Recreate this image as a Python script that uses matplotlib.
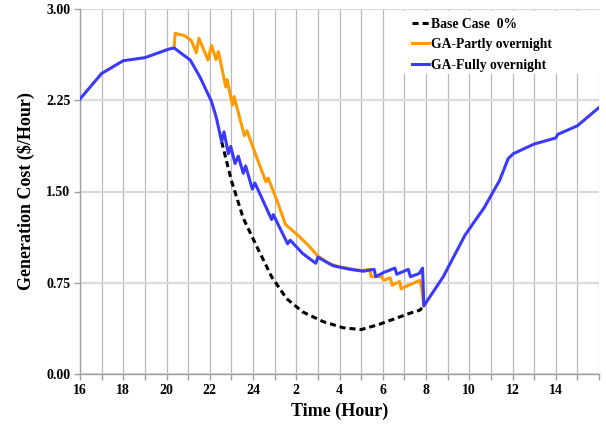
import matplotlib
matplotlib.use("Agg")
import matplotlib.pyplot as plt
from matplotlib.patches import Rectangle
import numpy as np

# ---- data (hours counted from 16:00; 24+ means next day) ----
fully_hours = [16, 17, 18, 19, 20.1, 20.35, 21.1, 21.55, 22.08, 22.3, 22.55, 22.66, 22.86, 22.97,
               23.17, 23.32, 23.55, 23.66, 23.97, 24.09, 24.86, 24.94, 25.6, 25.72, 26.3, 26.9,
               27.0, 27.7, 28.5, 29.1, 29.6, 29.68, 30.05, 30.56, 30.65, 31.18, 31.28, 31.68,
               31.84, 31.9, 32.8, 33.8, 34.7, 35.4, 35.8, 36.03, 37.0, 38.0, 38.1, 39.0, 40.0]
fully_cost = [2.26, 2.47, 2.575, 2.60, 2.67, 2.68, 2.58, 2.44, 2.24, 2.11, 1.91, 1.99, 1.81, 1.87,
              1.73, 1.79, 1.65, 1.71, 1.52, 1.57, 1.27, 1.31, 1.07, 1.10, 0.99, 0.91,
              0.96, 0.89, 0.86, 0.845, 0.86, 0.80, 0.835, 0.87, 0.82, 0.86, 0.80, 0.825,
              0.87, 0.56, 0.80, 1.14, 1.37, 1.59, 1.77, 1.81, 1.89, 1.94, 1.97, 2.04, 2.19]

partly_hours = [20.35, 20.4, 20.85, 21.15, 21.38, 21.5, 21.92, 22.08, 22.29, 22.4, 22.74, 22.8,
                23.05, 23.13, 23.6, 23.72, 24.17, 24.6, 24.7, 25.1, 25.5, 26.2, 26.6, 27.0,
                27.5, 28.0, 29.0, 29.4, 29.46, 29.95, 30.05, 30.35, 30.43, 30.78, 30.85, 31.2,
                31.72, 31.8, 31.9]
partly_cost = [2.68, 2.80, 2.78, 2.74, 2.64, 2.76, 2.58, 2.70, 2.585, 2.65, 2.36, 2.42,
               2.21, 2.28, 1.96, 2.00, 1.78, 1.58, 1.61, 1.43, 1.23, 1.12, 1.05, 0.97,
               0.91, 0.88, 0.85, 0.86, 0.80, 0.80, 0.77, 0.79, 0.73, 0.76, 0.70, 0.73,
               0.77, 0.71, 0.56]

base_hours = [22.55, 23.0, 23.55, 24.17, 24.86, 25.55, 26.3, 27.25, 28.17, 29.0, 29.87, 30.8,
              31.26, 31.72, 31.9]
base_cost = [1.91, 1.59, 1.28, 1.05, 0.80, 0.62, 0.51, 0.43, 0.38, 0.365, 0.41, 0.47,
             0.50, 0.525, 0.56]

x_tick_pos = [16, 18, 20, 22, 24, 26, 28, 30, 32, 34, 36, 38]
x_tick_labels = ["16", "18", "20", "22", "24", "2", "4", "6", "8", "10", "12", "14"]
y_ticks = [0.0, 0.75, 1.50, 2.25, 3.00]

labels = ["Base Case  0%", "GA-Partly overnight", "GA-Fully overnight"]

# ---- figure ----
plt.rcParams['font.family'] = ['Liberation Serif', 'DejaVu Serif']
plt.rcParams['font.weight'] = 'bold'

fig = plt.figure(figsize=(6.06, 4.26), dpi=100)
ax = fig.add_axes([80/606, 1-374/426, 519/606, 365/426])

ax.plot(base_hours, base_cost, color='black', lw=2.2, dashes=(2.0, 1.3), label=labels[0], zorder=3)
ax.plot(partly_hours, partly_cost, color='#FF9A00', lw=2.2, label=labels[1], zorder=4)
ax.plot(fully_hours, fully_cost, color='#3A3AFF', lw=2.2, label=labels[2], zorder=5)

ax.set_xlim(16, 40)
ax.set_ylim(0, 3.0)

ax.set_xticks(np.arange(16, 41, 1))
all_labels = []
for h in range(16, 41):
    if h in x_tick_pos:
        all_labels.append(x_tick_labels[x_tick_pos.index(h)])
    else:
        all_labels.append("")
ax.set_xticklabels(all_labels)
ax.set_yticks(y_ticks)
ax.set_yticklabels([f"{v:.2f}" for v in y_ticks])

ax.tick_params(axis='both', which='both', direction='out', length=4, width=1,
               color='#a0a0a0', labelsize=10, pad=3)

ax.grid(axis='x', color='#b8b8b8', lw=0.9, zorder=0)
ax.grid(axis='y', color='#dadada', lw=1.6, zorder=0)
ax.set_axisbelow(True)

for s in ['top', 'right']:
    ax.spines[s].set_visible(False)
for s in ['left', 'bottom']:
    ax.spines[s].set_color('#a0a0a0')
    ax.spines[s].set_linewidth(1.0)

ax.set_xlabel("Time (Hour)", fontsize=13, fontweight='bold', labelpad=4)
ax.set_ylabel("Generation Cost ($/Hour)", fontsize=13, fontweight='bold', labelpad=8)

# white background area behind the legend
ax.add_patch(Rectangle((0.6166, 0.822), 0.3834, 0.172, transform=ax.transAxes,
                       facecolor='white', edgecolor='none', zorder=1))

leg = ax.legend(loc='upper left', bbox_to_anchor=(0.640, 0.976),
                borderaxespad=0, frameon=False, prop={'weight': 'bold', 'size': 9.8},
                handlelength=1.25, handletextpad=0.15, labelspacing=0.55, borderpad=0)
leg.set_zorder(10)

fig.savefig("out.png", dpi=100, facecolor='white')
